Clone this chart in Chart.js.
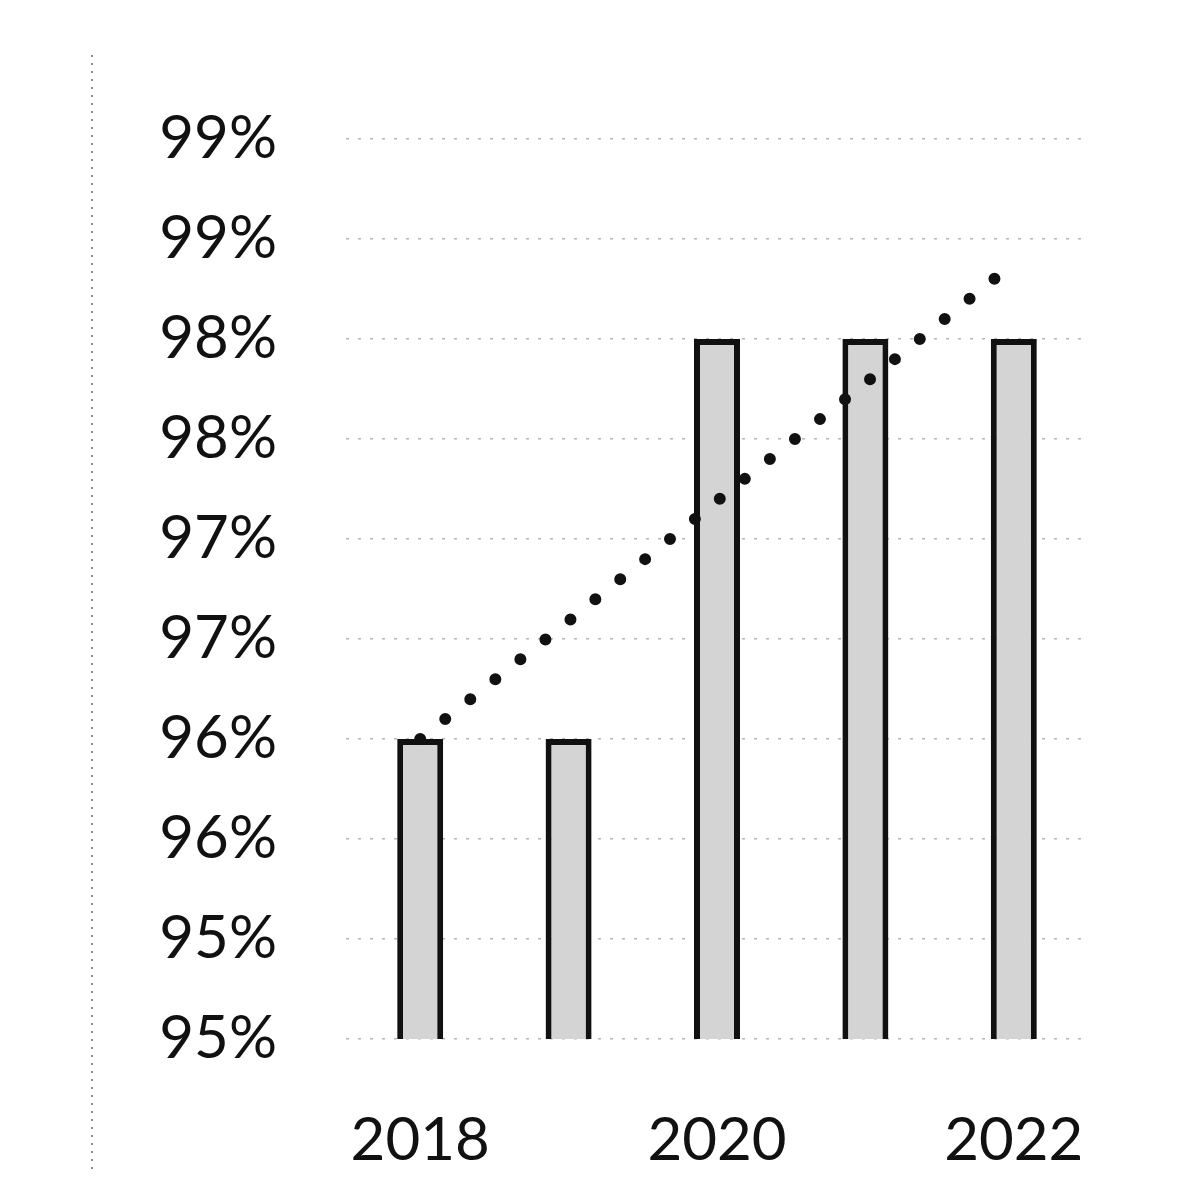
<!DOCTYPE html>
<html>
<head>
<meta charset="utf-8">
<script src="https://cdn.jsdelivr.net/npm/chart.js@4/dist/chart.umd.min.js"></script>
<style>
  html, body { margin: 0; padding: 0; background: #ffffff; }
  #wrap { width: 1185px; height: 1178px; position: relative; }
</style>
</head>
<body>
<div id="wrap"><canvas id="c" width="1185" height="1178"></canvas></div>
<script>
// Yearly share (percent) with its trend line
const years = ['2018', '2019', '2020', '2021', '2022'];
const xTickLabels = ['2018', '', '2020', '', '2022'];
const shareValues = [96.5, 96.5, 98.5, 98.5, 98.5];
const trendValues = [96.5, 97.09, 97.69, 98.28, 98.88];
const yTickLabels = ['95%', '95%', '96%', '96%', '97%', '97%', '98%', '98%', '99%', '99%'];
const yMin = 95, yMax = 99.5, yStep = 0.5;

const FONT = 'Lato, "Open Sans", sans-serif';

// faint dotted rule down the left margin
const marginRule = {
  id: 'marginRule',
  beforeDraw(chart) {
    const ctx = chart.ctx;
    ctx.save();
    ctx.strokeStyle = 'rgba(60,60,60,0.6)';
    ctx.lineWidth = 2;
    ctx.setLineDash([2, 6]);
    ctx.beginPath();
    ctx.moveTo(92, 55);
    ctx.lineTo(92, 1175);
    ctx.stroke();
    ctx.restore();
  }
};

new Chart(document.getElementById('c'), {
  data: {
    labels: years,
    datasets: [
      {
        type: 'line',
        label: 'Trend',
        data: trendValues,
        borderColor: '#111111',
        borderWidth: 12,
        borderDash: [0, 32],
        borderCapStyle: 'round',
        pointRadius: 0,
        fill: false,
        tension: 0,
        order: 0
      },
      {
        type: 'bar',
        label: 'Share',
        data: shareValues,
        backgroundColor: '#d4d4d4',
        borderColor: '#111111',
        borderWidth: 6,
        borderSkipped: false,
        categoryPercentage: 1.0,
        barPercentage: 0.31,
        order: 1
      }
    ]
  },
  options: {
    responsive: false,
    animation: false,
    devicePixelRatio: 1,
    layout: { padding: { top: 139, right: 97, bottom: 0, left: 0 } },
    plugins: {
      legend: { display: false },
      tooltip: { enabled: false },
      title: { display: false }
    },
    scales: {
      x: {
        grid: { display: false, drawTicks: false },
        border: { display: false },
        afterFit(scale) { scale.height = 139; },
        ticks: {
          autoSkip: false,
          maxRotation: 0,
          padding: 66,
          color: '#111111',
          font: { family: FONT, size: 60 },
          callback: (v, i) => xTickLabels[i]
        }
      },
      y: {
        min: yMin,
        max: yMax,
        afterFit(scale) { scale.width = 346; },
        grid: {
          color: 'rgba(110,110,110,0.5)',
          lineWidth: 1.5,
          drawTicks: false
        },
        border: { display: false, dash: [3, 9] },
        ticks: {
          stepSize: yStep,
          padding: 69,
          color: '#111111',
          font: { family: FONT, size: 60 },
          callback: (v, i) => yTickLabels[i]
        }
      }
    }
  },
  plugins: [marginRule]
});
</script>
</body>
</html>
